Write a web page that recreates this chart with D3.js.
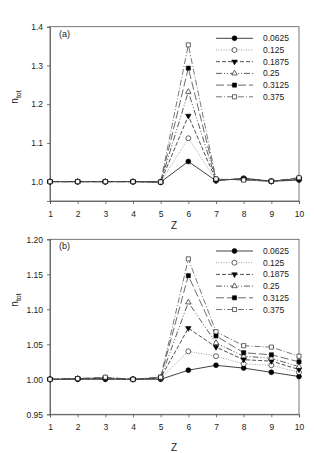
<!DOCTYPE html>
<html>
<head>
<meta charset="utf-8">
<script src="https://cdn.jsdelivr.net/npm/d3@7"></script>
<style>
  body { margin: 0; background: #fff; }
  svg text { font-family: "Liberation Sans", Arial, sans-serif; fill: #222; }
</style>
</head>
<body>
<script>
var W = 314, H = 453;

// Data
var zValues = [1, 2, 3, 4, 5, 6, 7, 8, 9, 10];
var seriesNames = ["0.0625", "0.125", "0.1875", "0.25", "0.3125", "0.375"];

var panelA = [
  [1.000, 1.000, 1.000, 1.000, 0.999, 1.052, 1.002, 1.009, 1.001, 1.004],
  [1.000, 1.000, 1.000, 1.000, 0.999, 1.112, 1.003, 1.007, 1.001, 1.006],
  [1.000, 1.000, 1.000, 1.000, 0.999, 1.170, 1.004, 1.007, 1.001, 1.007],
  [1.000, 1.000, 1.000, 1.000, 0.999, 1.232, 1.005, 1.006, 1.001, 1.008],
  [1.000, 1.000, 1.000, 1.000, 0.999, 1.293, 1.006, 1.005, 1.001, 1.009],
  [1.000, 1.000, 1.000, 1.000, 0.999, 1.353, 1.007, 1.004, 1.001, 1.010]
];

var panelB = [
  [1.000, 1.000, 1.000, 1.000, 1.000, 1.013, 1.020, 1.016, 1.010, 1.004],
  [1.000, 1.001, 1.001, 1.000, 1.001, 1.040, 1.033, 1.022, 1.020, 1.010],
  [1.000, 1.001, 1.001, 1.000, 1.002, 1.073, 1.046, 1.028, 1.026, 1.014],
  [1.000, 1.001, 1.002, 1.000, 1.002, 1.110, 1.052, 1.033, 1.030, 1.018],
  [1.000, 1.001, 1.002, 1.000, 1.003, 1.148, 1.062, 1.038, 1.035, 1.025],
  [1.000, 1.001, 1.003, 1.000, 1.003, 1.172, 1.068, 1.048, 1.046, 1.033]
];

var yTicksA = [1.0, 1.1, 1.2, 1.3, 1.4];
var yTicksB = [0.95, 1.00, 1.05, 1.10, 1.15, 1.20];

// styles per series
var dashes = [null, "1,1.5", "4,2", "6,2,1,2,1,2", "8,3", "6,2,1,2"];
var strokes = ["#111", "#888", "#222", "#333", "#444", "#555"];
var markers = [
  {type: d3.symbolCircle, fill: "#000"},
  {type: d3.symbolCircle, fill: "#fff"},
  {type: "down", fill: "#000"},
  {type: d3.symbolTriangle, fill: "#fff"},
  {type: d3.symbolSquare, fill: "#000"},
  {type: d3.symbolSquare, fill: "#fff"}
];

var svg = d3.select("body").append("svg").attr("width", W).attr("height", H);

function drawPanel(cfg) {
  var x = d3.scaleLinear().domain([1, 10]).range([50, 299]);
  var y = d3.scaleLinear().domain(cfg.domain).range([cfg.bottom, cfg.top]);
  var g = svg.append("g");

  // frame
  g.append("rect").attr("x", 50).attr("y", cfg.top)
    .attr("width", 249).attr("height", cfg.bottom - cfg.top)
    .attr("fill", "none").attr("stroke", "#555").attr("stroke-width", 0.8);

  var xAxis = g.append("g").attr("transform", "translate(0," + cfg.bottom + ")")
    .call(d3.axisBottom(x).tickValues(zValues).tickSize(3).tickPadding(7));
  var yAxis = g.append("g").attr("transform", "translate(50,0)")
    .call(d3.axisLeft(y).tickValues(cfg.ticks).tickSize(3).tickPadding(4)
      .tickFormat(d3.format(cfg.fmt)));
  [xAxis, yAxis].forEach(function(a) {
    a.select(".domain").attr("stroke", "#555").attr("stroke-width", 0.8);
    a.selectAll(".tick line").attr("stroke", "#555").attr("stroke-width", 0.8);
    a.selectAll("text").attr("font-size", 8.5).attr("fill", "#222")
      .style("font-family", "Liberation Sans, Arial, sans-serif");
  });

  g.append("text").attr("x", 174).attr("y", cfg.zlabel)
    .attr("text-anchor", "middle").attr("font-size", 10).text("Z");

  var yl = g.append("text").attr("transform", "translate(18," + cfg.ylabel + ") rotate(-90)")
    .attr("text-anchor", "middle").attr("font-size", 10);
  yl.append("tspan").text("n");
  yl.append("tspan").attr("font-size", 7).attr("dy", 2.5).text("tot");

  g.append("text").attr("x", 59).attr("y", cfg.top + 10)
    .attr("font-size", 9).text(cfg.tag);

  var line = d3.line().x(function(d, i) { return x(zValues[i]); }).y(function(d) { return y(d); });

  function marker(sel, k, px, py) {
    var m = markers[k];
    var p;
    if (m.type === "down") {
      p = sel.append("path").attr("d", d3.symbol().type(d3.symbolTriangle).size(13)())
        .attr("transform", "translate(" + px + "," + py + ") rotate(180)");
    } else {
      var sz = m.type === d3.symbolSquare ? 17 : (m.type === d3.symbolTriangle ? 13 : 19);
      p = sel.append("path").attr("d", d3.symbol().type(m.type).size(sz)())
        .attr("transform", "translate(" + px + "," + py + ")");
    }
    p.attr("fill", m.fill).attr("stroke", "#000").attr("stroke-width", 0.6);
  }

  cfg.data.forEach(function(vals, k) {
    g.append("path").datum(vals).attr("d", line)
      .attr("fill", "none").attr("stroke", strokes[k]).attr("stroke-width", 0.8)
      .attr("stroke-dasharray", dashes[k]);
  });
  cfg.data.forEach(function(vals, k) {
    vals.forEach(function(v, i) { marker(g, k, x(zValues[i]), y(v)); });
  });

  // legend
  seriesNames.forEach(function(name, k) {
    var ly = cfg.legendY + k * 11.7;
    g.append("line").attr("x1", 216).attr("x2", 253).attr("y1", ly).attr("y2", ly)
      .attr("stroke", strokes[k]).attr("stroke-width", 0.8)
      .attr("stroke-dasharray", dashes[k]);
    marker(g, k, 234.5, ly);
    g.append("text").attr("x", 263).attr("y", ly + 3).attr("font-size", 8.5).text(name);
  });
}

drawPanel({data: panelA, domain: [0.95, 1.4], top: 26.7, bottom: 201, ticks: yTicksA,
  fmt: ".1f", zlabel: 229, ylabel: 97, tag: "(a)", legendY: 38.3});
drawPanel({data: panelB, domain: [0.95, 1.2], top: 239.3, bottom: 414.3, ticks: yTicksB,
  fmt: ".2f", zlabel: 451, ylabel: 300, tag: "(b)", legendY: 251});
</script>
</body>
</html>
